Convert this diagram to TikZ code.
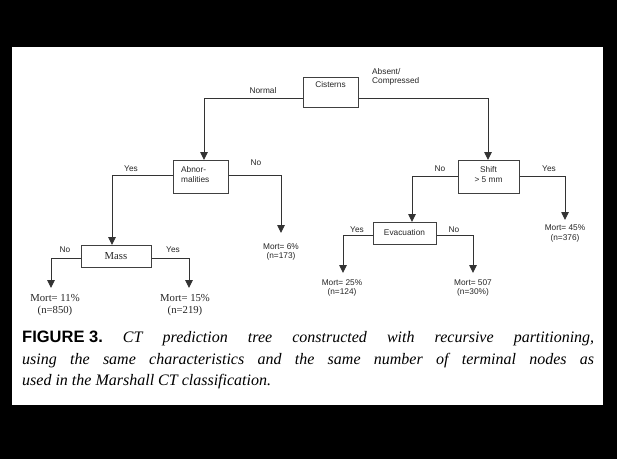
\documentclass[tikz,border=0pt]{standalone}
\usepackage{fontspec}
\setmainfont{Liberation Serif}
\newfontfamily\arialf{Liberation Sans}
\newfontfamily\timesf{Liberation Serif}
\usetikzlibrary{arrows.meta,calc}
\begin{document}
\begin{tikzpicture}[x=1pt,y=-1pt,
  conn/.style={draw=black!80, line width=0.9pt},
  arr/.style={conn, -{Triangle[width=7.5pt,length=8pt]}},
  box/.style={draw=black!75, line width=0.9pt, inner sep=0pt, anchor=north west},
  lbl/.style={font=\arialf\fontsize{8.3}{9.5}\selectfont, inner sep=0pt, text=black!85},
  slbl/.style={font=\timesf\fontsize{10.7}{12}\selectfont, inner sep=0pt, text=black!85, align=center},
  term/.style={lbl, align=center, anchor=north}
]
\useasboundingbox (0,0) rectangle (617,459);
\fill[black] (0,0) rectangle (617,459);
\fill[white] (12,47) rectangle (603,405);

% boxes
\node[box, minimum width=55pt, minimum height=30pt] (cis) at (303,77) {};
\node[box, minimum width=55pt, minimum height=33pt] (abn) at (173,160) {};
\node[box, minimum width=61pt, minimum height=33pt] (shf) at (458,160) {};
\node[box, minimum width=70pt, minimum height=22pt] (mas) at (81,245) {};
\node[box, minimum width=63pt, minimum height=22pt] (eva) at (373,222) {};

% box texts
\node[lbl] (cisT) at (330.5,85) {Cisterns};
\node[lbl, align=left, anchor=west] (abnT) at (181,174.5) {Abnor-\\malities};
\node[lbl, align=center] (shfT) at (488.5,174.5) {Shift\\> 5 mm};
\node[slbl] (masT) at (116,256) {Mass};
\node[lbl] (evaT) at (404.5,233) {Evacuation};

% branch points
\coordinate (c1) at (204,98);
\coordinate (c2) at (488,98);
\coordinate (a1) at (112,175);
\coordinate (a2) at (281,175);
\coordinate (a2e) at (281,233);
\coordinate (s1) at (412,176);
\coordinate (s2) at (565,176);
\coordinate (s2e) at (565,220);
\coordinate (m1) at (51,258);
\coordinate (m1e) at (51,288);
\coordinate (m2) at (189,258);
\coordinate (m2e) at (189,288);
\coordinate (e1) at (343,235);
\coordinate (e1e) at (343,273);
\coordinate (e2) at (473,235);
\coordinate (e2e) at (473,273);

% connectors
\draw[arr] (cis.west |- c1) -- (c1) -- (c1 |- abn.north);
\draw[arr] (cis.east |- c2) -- (c2) -- (c2 |- shf.north);
\draw[arr] (abn.west |- a1) -- (a1) -- (a1 |- mas.north);
\draw[arr] (abn.east |- a2) -- (a2) -- (a2e);
\draw[arr] (shf.west |- s1) -- (s1) -- (s1 |- eva.north);
\draw[arr] (shf.east |- s2) -- (s2) -- (s2e);
\draw[arr] (mas.west |- m1) -- (m1) -- (m1e);
\draw[arr] (mas.east |- m2) -- (m2) -- (m2e);
\draw[arr] (eva.west |- e1) -- (e1) -- (e1e);
\draw[arr] (eva.east |- e2) -- (e2) -- (e2e);

% branch labels
\node[lbl] (lNormal) at (263,91) {Normal};
\node[lbl, align=left, anchor=north west] (lAbsent) at (372,68) {Absent/\\Compressed};
\node[lbl] (lAY) at (131,169) {Yes};
\node[lbl] (lAN) at (256,163) {No};
\node[lbl] (lSN) at (440,169) {No};
\node[lbl] (lSY) at (549,169) {Yes};
\node[lbl] (lMN) at (65,250) {No};
\node[lbl] (lMY) at (173,250) {Yes};
\node[lbl] (lEY) at (357,230) {Yes};
\node[lbl] (lEN) at (454,230) {No};

% terminal labels
\node[term] (t6) at (281,243) {Mort= 6\%\\(n=173)};
\node[term] (t45) at (565,225) {Mort= 45\%\\(n=376)};
\node[term] (t25) at (342,279) {Mort= 25\%\\(n=124)};
\node[term] (t507) at (473,279) {Mort= 507\\(n=30\%)};
\node[slbl, anchor=north] (t11) at (55,294) {Mort= 11\%\\(n=850)};
\node[slbl, anchor=north] (t15) at (185,294) {Mort= 15\%\\(n=219)};

% caption
\node[anchor=north west, inner sep=0pt, text width=572pt, align=justify,
      font=\frenchspacing\fontsize{16}{21.5}\selectfont] (cap) at (22,331)
  {\mbox{\arialf\bfseries\fontsize{16.5}{21.5}\selectfont FIGURE 3.} \textit{CT prediction tree constructed with recursive partitioning,\linebreak
   using the same characteristics and the same number of terminal nodes as\linebreak
   used in the Marshall CT classification.}};
\end{tikzpicture}
\end{document}
